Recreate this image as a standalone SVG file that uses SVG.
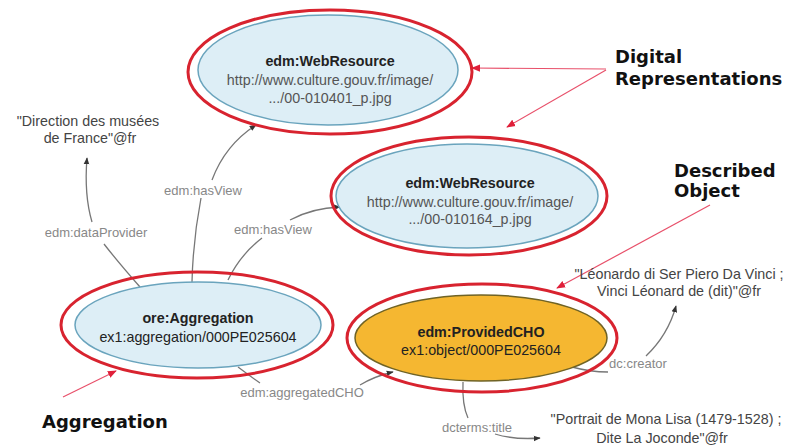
<svg xmlns="http://www.w3.org/2000/svg" width="785" height="447" viewBox="0 0 785 447">
<defs>
<marker id="ga" viewBox="0 0 10 10" refX="9" refY="5" markerWidth="7" markerHeight="7" orient="auto" markerUnits="userSpaceOnUse"><path d="M0,1 L10,5 L0,9 z" fill="#333"/></marker>
<marker id="ra" viewBox="0 0 10 10" refX="9" refY="5" markerWidth="9" markerHeight="9" orient="auto" markerUnits="userSpaceOnUse"><path d="M0,1 L10,5 L0,9 z" fill="#e0203a"/></marker>
</defs>
<style>
.ring{fill:none;stroke:#d8232f;stroke-width:3}
.blue{fill:#ddeef6;stroke:#6aa4bd;stroke-width:1.5}
.orange{fill:#f5b731;stroke:#6f6326;stroke-width:1.5}
.t{font-family:"Liberation Sans",Arial,sans-serif;font-size:14.3px;text-anchor:middle;fill:#222}
.b{font-weight:bold}
.u{fill:#555}
.lbl{font-family:"Liberation Sans",Arial,sans-serif;font-size:13px;text-anchor:middle;fill:#888}
.lit{font-family:"Liberation Sans",Arial,sans-serif;font-size:14.3px;text-anchor:middle;fill:#444}
.big{font-family:"DejaVu Sans",Verdana,sans-serif;font-size:18px;font-weight:bold;fill:#111}
.e{fill:none;stroke:#777;stroke-width:1.3}
.p{fill:none;stroke:#e8506a;stroke-width:1.2}
</style>
<g id="connectors">
<path class="e" d="M140,287 Q118,262 104,244"/>
<path class="e" d="M92,222 Q84,195 87,158" marker-end="url(#ga)"/>
<path class="e" d="M192,282 Q193,240 201,198"/>
<path class="e" d="M212,180 Q225,145 256,125" marker-end="url(#ga)"/>
<path class="e" d="M228,280 Q240,255 262,238"/>
<path class="e" d="M290,220 Q312,208 340,207" marker-end="url(#ga)"/>
<path class="e" d="M238,367 Q250,376 260,383"/>
<path class="e" d="M360,385 Q375,376 393,372" marker-end="url(#ga)"/>
<path class="e" d="M572,367 Q590,372 608,372"/>
<path class="e" d="M646,356 Q668,335 676,306" marker-end="url(#ga)"/>
<path class="e" d="M463,382 Q462,405 468,418"/>
<path class="e" d="M495,434 Q515,440 540,438" marker-end="url(#ga)"/>
<path class="p" d="M606,69 L472,68" marker-end="url(#ra)"/>
<path class="p" d="M606,70 L507,127" marker-end="url(#ra)"/>
<path class="p" d="M710,205 L557,288" marker-end="url(#ra)"/>
<path class="p" d="M63,397 L116,371" marker-end="url(#ra)"/>
</g>
<g id="webresource1">
<ellipse class="blue" cx="328" cy="70" rx="130" ry="55"/>
<ellipse class="ring" cx="330" cy="72" rx="142" ry="62"/>
<text class="t b" x="330" y="66">edm:WebResource</text>
<text class="t u" x="330" y="85">http://www.culture.gouv.fr/image/</text>
<text class="t u" x="330" y="103">.../00-010401_p.jpg</text>
</g>
<g id="webresource2">
<ellipse class="blue" cx="467" cy="196" rx="131" ry="52"/>
<ellipse class="ring" cx="469" cy="196" rx="138" ry="59"/>
<text class="t b" x="470" y="188">edm:WebResource</text>
<text class="t u" x="470" y="207">http://www.culture.gouv.fr/image/</text>
<text class="t u" x="470" y="224">.../00-010164_p.jpg</text>
</g>
<g id="aggregation">
<ellipse class="blue" cx="198" cy="325" rx="123" ry="43"/>
<ellipse class="ring" cx="197" cy="325" rx="136" ry="53"/>
<text class="t b" x="198" y="323">ore:Aggregation</text>
<text class="t" x="198" y="342">ex1:aggregation/000PE025604</text>
</g>
<g id="providedcho">
<ellipse class="orange" cx="481" cy="338" rx="126" ry="43"/>
<ellipse class="ring" cx="482" cy="338" rx="135" ry="54"/>
<text class="t b" x="481" y="337">edm:ProvidedCHO</text>
<text class="t" x="481" y="355">ex1:object/000PE025604</text>
</g>
<g id="provider-literal">
<text class="lit" x="88" y="126">"Direction des musées</text>
<text class="lit" x="90" y="143">de France"@fr</text>
</g>
<g id="creator-literal">
<text class="lit" x="679" y="279">"Léonardo di Ser Piero Da Vinci ;</text>
<text class="lit" x="679" y="296">Vinci Léonard de (dit)"@fr</text>
</g>
<g id="title-literal">
<text class="lit" x="666" y="424">"Portrait de Mona Lisa (1479-1528) ;</text>
<text class="lit" x="662" y="443">Dite La Joconde"@fr</text>
</g>
<g id="edge-labels">
<text class="lbl" x="96" y="237">edm:dataProvider</text>
<text class="lbl" x="203" y="195">edm:hasView</text>
<text class="lbl" x="273" y="234">edm:hasView</text>
<text class="lbl" x="302" y="397">edm:aggregatedCHO</text>
<text class="lbl" x="638" y="368">dc:creator</text>
<text class="lbl" x="477" y="432">dcterms:title</text>
</g>
<g id="callouts">
<text class="big" x="615" y="63">Digital</text>
<text class="big" x="615" y="85">Representations</text>
<text class="big" x="674" y="177">Described</text>
<text class="big" x="674" y="197">Object</text>
<text class="big" x="42" y="428">Aggregation</text>
</g>
</svg>
